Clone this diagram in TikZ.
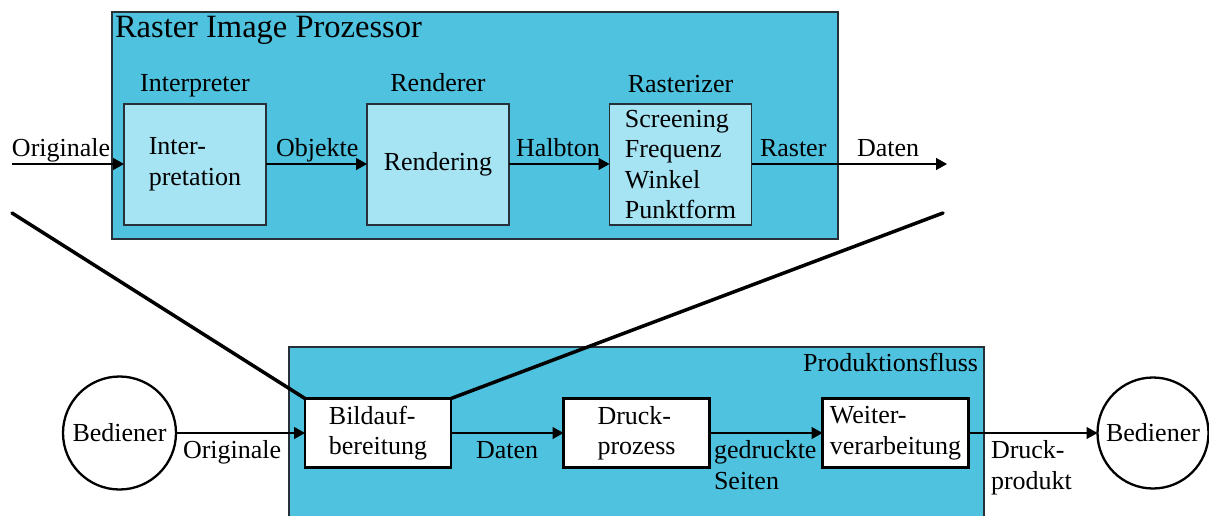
\documentclass[tikz,border=0pt]{standalone}
\usepackage{fontspec}
\setmainfont{Liberation Serif}
\usetikzlibrary{arrows.meta}
\definecolor{ripblue}{RGB}{78,194,223}
\definecolor{stagefill}{RGB}{166,228,244}
\definecolor{edgegray}{RGB}{38,48,54}
\begin{document}
\begin{tikzpicture}[x=1pt,y=-1pt,
  every node/.style={font=\fontsize{26}{30.5}\selectfont, inner sep=0pt, outer sep=0pt},
  titlefont/.style={font=\fontsize{32.5}{36}\selectfont},
  ripstage/.style={draw=edgegray, line width=1.4pt, fill=stagefill,
    minimum width=142pt, minimum height=121pt, align=left},
  prodstage/.style={draw=black, line width=2.2pt, fill=white,
    minimum width=146pt, minimum height=69pt, align=left},
  person/.style={circle, draw=black, line width=2.3pt, fill=white},
  flow/.style={line width=1.3pt, -{Triangle[length=11pt,width=12pt]}},
  link/.style={line width=3.5pt, line cap=round},
  lbl/.style={anchor=base west, align=left},
]
\useasboundingbox (0,0) rectangle (1209,516);

% containers
\node[draw=edgegray, line width=1.4pt, fill=ripblue, anchor=north west,
  minimum width=726pt, minimum height=227pt] (rip) at (112,12) {};
\node[titlefont, anchor=base west] (riptitle) at (115,38) {Raster Image Prozessor};

\node[fill=ripblue, anchor=north west, minimum width=695pt, minimum height=180pt]
  (prod) at (289,347) {};
\draw[edgegray, line width=1.4pt] (prod.south west) -- (prod.north west)
  -- (prod.north east) -- (prod.south east);
\node[anchor=base east] (prodtitle) at (978,371) {Produktionsfluss};

% RIP stages
\node[ripstage] (interp) at (195,164.5) {Inter-\\pretation};
\node[ripstage] (rend) at (438,164.5) {Rendering};
\node[ripstage] (rast) at (680.5,164.5) {Screening\\Frequenz\\Winkel\\Punktform};

\node[anchor=base] (interpname) at (195,92) {Interpreter};
\node[anchor=base] (rendname) at (438,92) {Renderer};
\node[anchor=base] (rastname) at (680.5,93) {Rasterizer};

\coordinate (ripin) at (12,164);
\coordinate (ripout) at (947,164);
\draw[flow] (ripin) -- (ripin -| interp.west);
\draw[flow] (interp.east |- ripin) -- (rend.west |- ripin);
\draw[flow] (rend.east |- ripin) -- (rast.west |- ripin);
\draw[flow] (rast.east |- ripin) -- (ripout);

\node[lbl] (l1) at (12,157) {Originale};
\node[lbl] (l2) at (276,157) {Objekte};
\node[lbl] (l3) at (516,157) {Halbton};
\node[lbl] (l4) at (760,157) {Raster};
\node[lbl] (l5) at (857,157) {Daten};

% production flow
\node[prodstage] (bild) at (378,433) {Bildauf-\\bereitung};
\node[prodstage] (druck) at (636.5,433) {Druck-\\prozess};
\node[prodstage] (weiter) at (895.5,433) {Weiter-\\verarbeitung};
\node[person, minimum size=113pt] (opin) at (119.5,433) {Bediener};
\node[person, minimum size=111pt] (opout) at (1153,433) {Bediener};

\draw[flow] (opin) -- (bild);
\draw[flow] (bild) -- (druck);
\draw[flow] (druck) -- (weiter);
\draw[flow] (weiter) -- (opout);

% two-line labels: the base anchor sits on the last line
\node[lbl] (b1) at (183,458) {Originale};
\node[lbl] (b2) at (476,458) {Daten};
\node[lbl] (b3) at (714,489) {gedruckte\\Seiten};
\node[lbl] (b4) at (991,489) {Druck-\\produkt};

% zoom lines from the RIP to the image preparation step
\coordinate (zoomleft) at (12,213);
\coordinate (zoomright) at (943,213);
\draw[link] (zoomleft) -- (bild.north west);
\draw[link] (zoomright) -- (bild.north east);
\end{tikzpicture}
\end{document}
